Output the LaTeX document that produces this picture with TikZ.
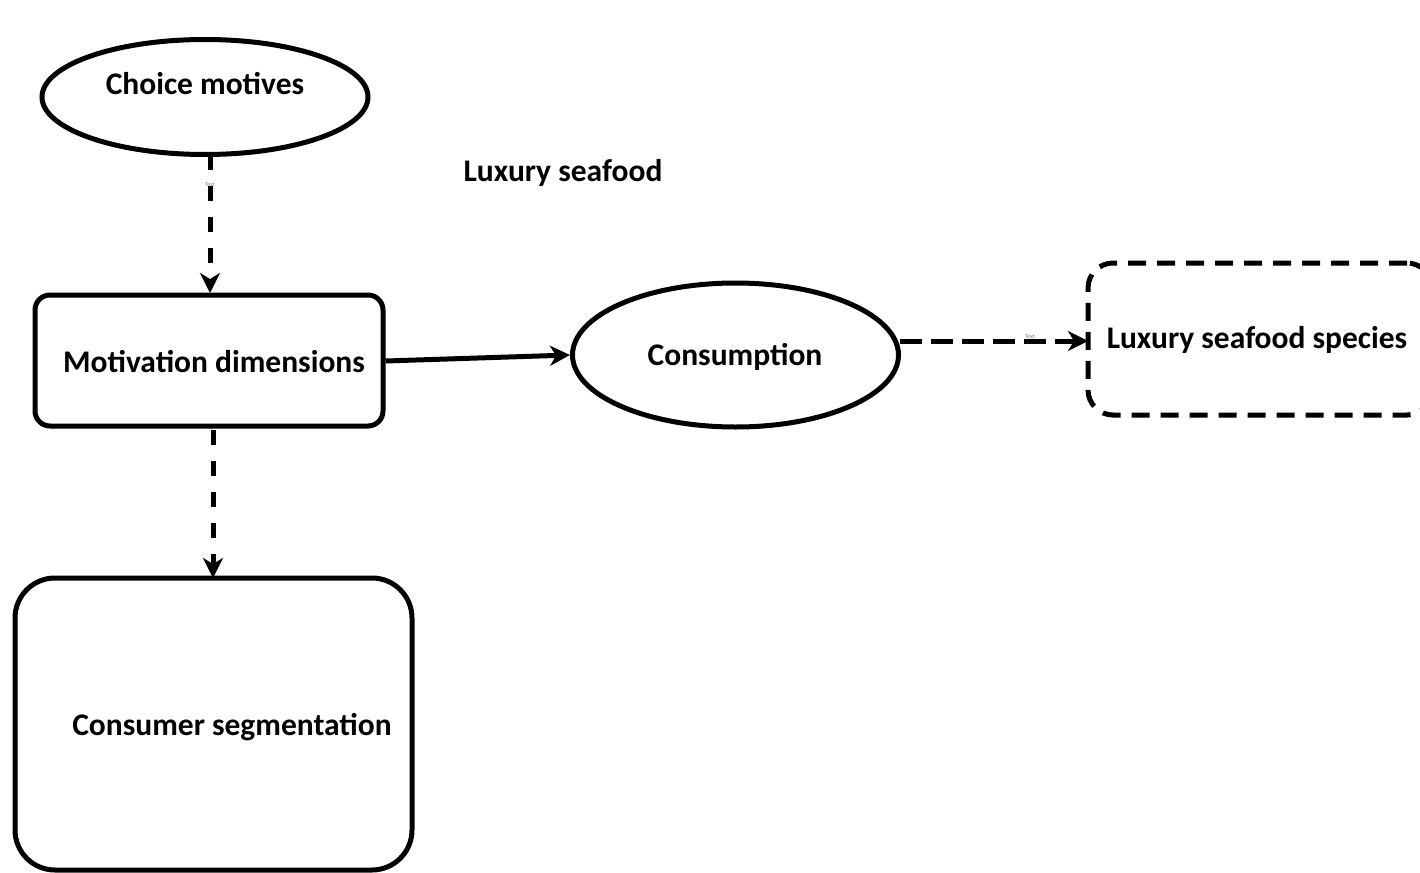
\documentclass[tikz,border=0pt]{standalone}
\usepackage{fontspec}
\setmainfont{Carlito}
\usetikzlibrary{arrows.meta,shapes.geometric}
\begin{document}
\begin{tikzpicture}[x=1pt,y=-1pt,
  every node/.style={font=\fontsize{31.5}{36}\selectfont\bfseries},
  shapeline/.style={draw=black,line width=5pt,inner sep=0pt},
  ell/.style={shapeline,ellipse},
  rbox/.style={shapeline,rectangle,rounded corners=#1},
  conn/.style={line width=5pt,-{Stealth[length=20pt,width=20pt,inset=6pt]}},
  vdash/.style={conn,dash pattern=on 15pt off 16pt},
  hdash/.style={conn,dash pattern=on 22pt off 9pt},
  tinytext/.style={font=\fontsize{6}{7}\selectfont,text=gray,inner sep=0pt}
]
\useasboundingbox (0,0) rectangle (1420,872);
\fill[white] (0,0) rectangle (1420,872);

\node[ell,minimum width=326pt,minimum height=115pt,
  label={[yshift=13pt]center:Choice motives}] (cm) at (205,97) {};
\node (ls) at (563,173) {Luxury seafood};
\node[rbox=15pt,minimum width=348pt,minimum height=131pt] (md) at (209,360.5) {};
\node (mdt) at (214,362) {Motivation dimensions};
\node[ell,minimum width=326pt,minimum height=144pt] (co) at (735.5,355) {};
\node (cot) at (735,357) {Consumption};
\node[rbox=25pt,draw,dash pattern=on 18pt off 11pt,minimum width=344pt,minimum height=152pt] (lss) at (1260,339) {};
\node (lsst) at (1257,340) {Luxury seafood species};
\node[rbox=40pt,minimum width=397pt,minimum height=292pt] (cs) at (213.5,724) {};
\node (cst) at (232,727) {Consumer segmentation};

\coordinate (a1) at (210,155);
\coordinate (a2) at (210,293);
\draw[vdash] (a1) -- (a2);
\node[tinytext] (t1) at (210,185) {Text};
\coordinate (b1) at (213,430);
\coordinate (b2) at (213,578);
\draw[vdash] (b1) -- (b2);
\draw[conn] (md.east |- 0,361) -- (co.west);
\coordinate (c1) at (900,341);
\coordinate (c2) at (1088,341);
\draw[hdash] (c1) -- (c2);
\node[tinytext] (t2) at (1030,337) {Text};
\end{tikzpicture}
\end{document}
